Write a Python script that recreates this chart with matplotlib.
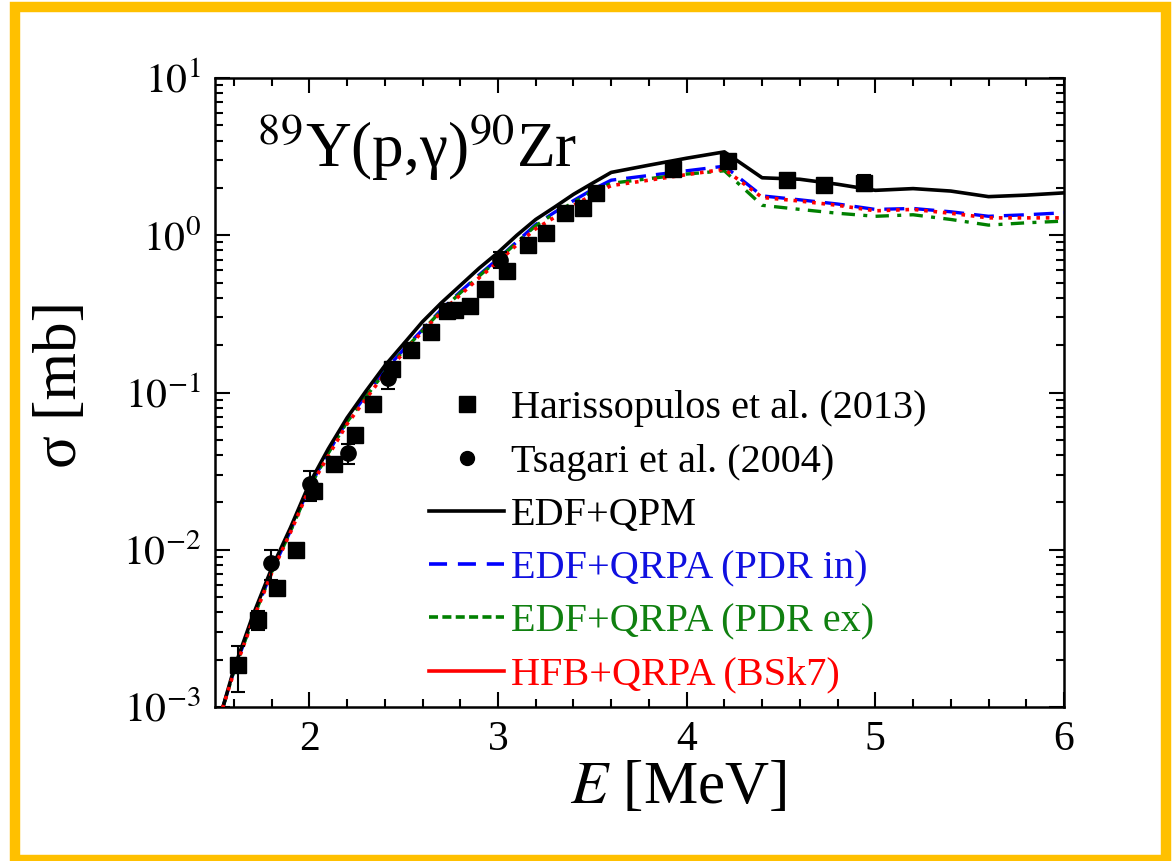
import matplotlib
matplotlib.use("Agg")
import matplotlib.pyplot as plt
from matplotlib.lines import Line2D
from matplotlib.patches import Rectangle
from matplotlib.ticker import MultipleLocator, LogLocator, NullFormatter, FixedLocator

plt.rcParams['font.family'] = ['Liberation Serif', 'DejaVu Serif']
plt.rcParams['mathtext.fontset'] = 'stix'

# ---- theory curves (E in MeV, sigma in mb) ----
E_curve = [1.54, 1.6, 1.7, 1.8, 1.9, 2.0, 2.1, 2.2, 2.3, 2.4, 2.5, 2.6, 2.7, 2.8, 2.9,
           3.0, 3.1, 3.2, 3.3, 3.4, 3.5, 3.6, 3.8, 4.0, 4.2, 4.4, 4.6, 4.8, 5.0, 5.2,
           5.4, 5.6, 5.8, 6.0]
edf_qpm = [0.00098, 0.00174, 0.0038, 0.0076, 0.0138, 0.0263, 0.0437, 0.069, 0.102, 0.148,
           0.204, 0.282, 0.372, 0.479, 0.617, 0.776, 1.00, 1.26, 1.51, 1.82, 2.14, 2.51,
           2.79, 3.09, 3.39, 2.32, 2.27, 2.11, 1.93, 1.98, 1.91, 1.76, 1.80, 1.86]
edf_qrpa_in = [0.00098, 0.00170, 0.00363, 0.00724, 0.0132, 0.0251, 0.0415, 0.066, 0.096,
               0.138, 0.188, 0.251, 0.337, 0.437, 0.56, 0.708, 0.91, 1.17, 1.40, 1.66,
               1.95, 2.24, 2.40, 2.57, 2.75, 1.78, 1.68, 1.58, 1.46, 1.48, 1.41, 1.32,
               1.35, 1.39]
edf_qrpa_ex = [0.00098, 0.00168, 0.0036, 0.0072, 0.0131, 0.0248, 0.041, 0.065, 0.094,
               0.135, 0.185, 0.248, 0.332, 0.43, 0.55, 0.70, 0.90, 1.15, 1.38, 1.62,
               1.90, 2.14, 2.29, 2.45, 2.57, 1.55, 1.46, 1.38, 1.32, 1.35, 1.26, 1.16,
               1.20, 1.23]
hfb_qrpa = [0.00098, 0.00166, 0.00355, 0.0071, 0.0129, 0.0245, 0.0395, 0.063, 0.091,
            0.132, 0.179, 0.245, 0.324, 0.417, 0.537, 0.676, 0.87, 1.10, 1.30, 1.55,
            1.80, 2.07, 2.24, 2.43, 2.63, 1.74, 1.65, 1.55, 1.43, 1.46, 1.38, 1.29,
            1.29, 1.29]

# ---- experimental data ----
E_har = [1.62, 1.726, 1.827, 1.93, 2.026, 2.13, 2.243, 2.336, 2.436, 2.54, 2.645, 2.73,
         2.77, 2.85, 2.93, 3.05, 3.157, 3.254, 3.355, 3.452, 3.52, 3.925, 4.22, 4.53,
         4.73, 4.94]
sig_har = [0.00184, 0.0036, 0.00575, 0.0100, 0.0235, 0.035, 0.0537, 0.085, 0.142, 0.185,
           0.242, 0.33, 0.335, 0.357, 0.455, 0.594, 0.865, 1.03, 1.39, 1.48, 1.86, 2.64,
           2.95, 2.26, 2.10, 2.15]
err_har = [0.0006, 0.0005, 0.0004, 0.0, 0.002, 0.003, 0.004, 0.008, 0.01, 0.01, 0.02,
           0.02, 0.02, 0.02, 0.03, 0.05, 0.06, 0.07, 0.1, 0.1, 0.12, 0.15, 0.25, 0.2,
           0.15, 0.25]
E_tsa = [1.798, 2.005, 2.207, 2.415, 3.01]
sig_tsa = [0.0082, 0.026, 0.041, 0.123, 0.70]
err_tsa = [0.0018, 0.0055, 0.006, 0.018, 0.08]

labels = ["Harissopulos et al. (2013)", "Tsagari et al. (2004)", "EDF+QPM",
          "EDF+QRPA (PDR in)", "EDF+QRPA (PDR ex)", "HFB+QRPA (BSk7)"]
label_colors = ["black", "black", "black", "#1010e0", "#108010", "#ff0000"]

fig = plt.figure(figsize=(11.74, 8.61), dpi=100)
ax = fig.add_axes([215/1174, 154/861, 849/1174, 629/861])

ax.plot(E_curve, edf_qpm, color='black', lw=2.6, solid_joinstyle='round', zorder=4)
ax.plot(E_curve, edf_qrpa_in, color='#0000ff', lw=2.4, dashes=(6, 3), zorder=3)
ax.plot(E_curve, edf_qrpa_ex, color='#008000', lw=2.4, dashes=(4, 2.5, 1.2, 2.5), zorder=3)
ax.plot(E_curve, hfb_qrpa, color='#ff0000', lw=2.6, dashes=(1.0, 1.6), zorder=5)

ax.errorbar(E_har, sig_har, yerr=err_har, fmt='s', color='black', ms=12, capsize=5,
            elinewidth=1.5, capthick=1.5, zorder=6)
ax.errorbar(E_tsa, sig_tsa, yerr=err_tsa, fmt='o', color='black', ms=11, capsize=5,
            elinewidth=1.5, capthick=1.5, zorder=6)

ax.set_yscale('log')
ax.set_xlim(1.5, 6.0)
ax.set_ylim(1e-3, 1e1)

ax.xaxis.set_major_locator(FixedLocator([2, 3, 4, 5, 6]))
ax.xaxis.set_minor_locator(MultipleLocator(0.2))
ax.yaxis.set_minor_locator(LogLocator(base=10, subs=range(2, 10), numticks=20))
ax.yaxis.set_minor_formatter(NullFormatter())
ax.set_yticks([1e-3, 1e-2, 1e-1, 1e0, 1e1])
ax.set_yticklabels([r'$10^{-3}$', r'$10^{-2}$', r'$10^{-1}$', r'$10^{0}$', r'$10^{1}$'])

ax.tick_params(which='both', direction='in', top=True, right=True, width=1.5)
ax.tick_params(which='major', length=11, labelsize=30, pad=10)
ax.tick_params(which='minor', length=6)
for s in ax.spines.values():
    s.set_linewidth(1.8)

ax.set_xlabel(r'$E$ [MeV]', fontsize=44)
ax.xaxis.set_label_coords((678 - 215) / 849, -0.085)
ax.set_ylabel('σ [mb]', fontsize=44)
ax.yaxis.set_label_coords(-0.148, (707 - 385) / 629)

ax.text(0.05, 0.858, r'$^{89}$Y(p,γ)$^{90}$Zr',
        transform=ax.transAxes, fontsize=45.5, va='baseline', ha='left')

handles = [
    Line2D([], [], ls='none', marker='s', color='black', ms=12),
    Line2D([], [], ls='none', marker='o', color='black', ms=10),
    Line2D([], [], color='black', lw=2.6),
    Line2D([], [], color='#0000ff', lw=2.6, dashes=(5, 3)),
    Line2D([], [], color='#008000', lw=2.6, dashes=(2.5, 1.2)),
    Line2D([], [], color='#ff0000', lw=2.6),
]
leg = ax.legend(handles, labels, loc='lower left', bbox_to_anchor=(0.219, -0.024),
                frameon=False, fontsize=29, handlelength=1.86, handletextpad=0.17,
                labelspacing=0.40, borderpad=0.2, labelcolor=label_colors)

fig.patches.append(Rectangle((15/1174, 1/861), 1151/1174, 853/861, transform=fig.transFigure,
                             fill=False, edgecolor='#FFC000', lw=7.5, zorder=10))

fig.savefig('out.png', dpi=100)
